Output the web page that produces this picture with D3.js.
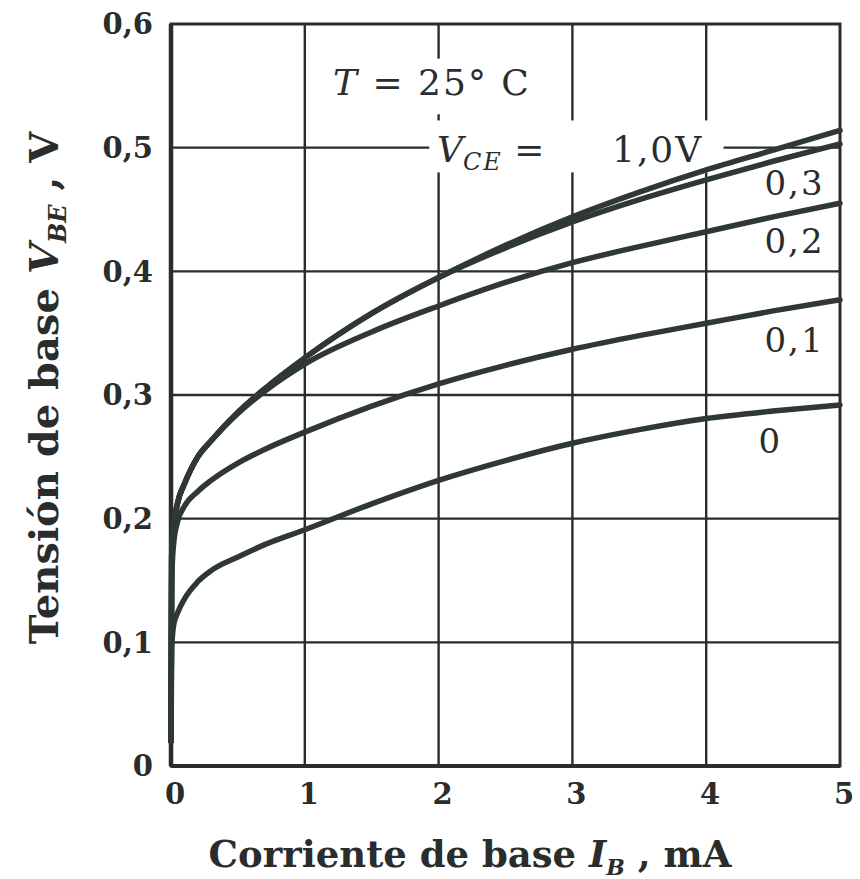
<!DOCTYPE html>
<html><head><meta charset="utf-8">
<script src="https://cdn.jsdelivr.net/npm/d3@7/dist/d3.min.js"></script>
<style>body{margin:0;background:#fff}svg{display:block}</style>
</head><body>
<script>
const xTicks = [0,1,2,3,4,5];
const yTicks = [0,0.1,0.2,0.3,0.4,0.5,0.6];
const yTickLabels = ["0","0,1","0,2","0,3","0,4","0,5","0,6"];
const xTickLabels = ["0","1","2","3","4","5"];
const ib = [0,0.005,0.02,0.05,0.1,0.2,0.3,0.5,0.7,1,1.5,2,2.5,3,3.5,4,4.5,5];
const vce0  = [0.02,0.095,0.114,0.124,0.135,0.149,0.158,0.169,0.179,0.191,0.212,0.231,0.247,0.261,0.272,0.281,0.287,0.292];
const vce01 = [0.02,0.15,0.180,0.198,0.210,0.222,0.231,0.245,0.256,0.270,0.291,0.309,0.324,0.337,0.348,0.358,0.368,0.377];
const vce02 = [0.02,0.17,0.193,0.213,0.228,0.250,0.263,0.285,0.303,0.325,0.351,0.372,0.391,0.407,0.420,0.432,0.444,0.455];
const vce03 = [0.02,0.17,0.193,0.213,0.228,0.250,0.263,0.286,0.305,0.330,0.366,0.395,0.419,0.440,0.458,0.474,0.489,0.503];
const vce10 = [0.02,0.17,0.193,0.213,0.228,0.250,0.263,0.286,0.305,0.330,0.366,0.395,0.421,0.444,0.464,0.482,0.498,0.514];
const seriesNames = ["0","0,1","0,2","0,3","1,0"];
const seriesValues = [vce0, vce01, vce02, vce03, vce10];

const W = 860, H = 879;
const ink = "#2a2d2b", curveInk = "#303833";
const svg = d3.select("body").append("svg").attr("width", W).attr("height", H);
svg.append("rect").attr("width", W).attr("height", H).attr("fill", "#fff");

const x = d3.scaleLinear().domain([0,5]).range([171,840]);
const y = d3.scaleLinear().domain([0,0.6]).range([766,24]);
const font = "'DejaVu Serif', serif";

// grid
const g = svg.append("g");
g.selectAll("line.v").data(xTicks.slice(1,-1)).join("line")
  .attr("x1", d=>x(d)).attr("x2", d=>x(d)).attr("y1", y(0.6)).attr("y2", y(0))
  .attr("stroke", ink).attr("stroke-width", 2.4);
g.selectAll("line.h").data(yTicks.slice(1,-1)).join("line")
  .attr("x1", x(0)).attr("x2", x(5)).attr("y1", d=>y(d)).attr("y2", d=>y(d))
  .attr("stroke", ink).attr("stroke-width", 2.4);

// label backgrounds (breaks in grid)
svg.append("rect").attr("x", x(1.93)).attr("y", y(0.522)).attr("width", x(4.13)-x(1.93)).attr("height", y(0.48)-y(0.522)).attr("fill", "#fff");
svg.append("rect").attr("x", x(1.2)).attr("y", y(0.572)).attr("width", x(2.8)-x(1.2)).attr("height", y(0.527)-y(0.572)).attr("fill", "#fff");

// frame
svg.append("rect").attr("x", x(0)).attr("y", y(0.6)).attr("width", x(5)-x(0)).attr("height", y(0)-y(0.6))
  .attr("fill", "none").attr("stroke", ink).attr("stroke-width", 3);
svg.append("line").attr("x1", x(0)).attr("x2", x(0)).attr("y1", y(0.6)).attr("y2", y(0)).attr("stroke", ink).attr("stroke-width", 4.5);
svg.append("line").attr("x1", x(0)).attr("x2", x(5)).attr("y1", y(0)).attr("y2", y(0)).attr("stroke", ink).attr("stroke-width", 4);

// curves
const line = d3.line().x((d,i)=>x(ib[i])).y(d=>y(d)).curve(d3.curveMonotoneX);
svg.selectAll("path.curve").data(seriesValues).join("path")
  .attr("d", d=>line(d)).attr("fill", "none").attr("stroke", curveInk)
  .attr("stroke-width", 5.5).attr("stroke-linecap", "round");

// tick labels
svg.selectAll("text.yt").data(yTicks).join("text")
  .attr("x", 153).attr("y", d=>y(d)).attr("dy", "0.36em").attr("text-anchor", "end")
  .attr("font-family", font).attr("font-weight", "bold").attr("font-size", 29).attr("fill", ink)
  .text((d,i)=>yTickLabels[i]);
svg.selectAll("text.xt").data(xTicks).join("text")
  .attr("x", d=>x(d)+4).attr("y", 804).attr("text-anchor", "middle")
  .attr("font-family", font).attr("font-weight", "bold").attr("font-size", 29).attr("fill", ink)
  .text((d,i)=>xTickLabels[i]);

// series labels
const labelPos = [[4.48,0.253],[4.66,0.335],[4.66,0.415],[4.66,0.462]];
svg.selectAll("text.sl").data(labelPos).join("text")
  .attr("x", d=>x(d[0])).attr("y", d=>y(d[1])).attr("text-anchor", "middle")
  .attr("font-family", font).attr("font-size", 34).attr("letter-spacing", 2).attr("fill", ink)
  .text((d,i)=>seriesNames[i]);

// V_CE label
const vl = svg.append("text").attr("x", 437).attr("y", 162)
  .attr("font-family", font).attr("font-size", 36).attr("fill", ink);
vl.append("tspan").attr("font-style", "italic").text("V");
vl.append("tspan").attr("font-style", "italic").attr("font-size", 24).attr("dy", 8).attr("letter-spacing", 2).text("CE");
vl.append("tspan").attr("dy", -8).text("  =");
svg.append("text").attr("x", 612).attr("y", 162)
  .attr("font-family", font).attr("font-size", 36).attr("letter-spacing", 2).attr("fill", ink).text("1,0V");

// T label
const tl = svg.append("text").attr("x", 333).attr("y", 95)
  .attr("font-family", font).attr("font-size", 36).attr("letter-spacing", 2).attr("fill", ink);
tl.append("tspan").attr("font-style", "italic").text("T");
tl.append("tspan").text(" = 25° C");

// axis titles
const xt = svg.append("text").attr("x", 470).attr("y", 867).attr("text-anchor", "middle")
  .attr("font-family", font).attr("font-weight", "bold").attr("font-size", 37).attr("fill", ink);
xt.append("tspan").text("Corriente de base ");
xt.append("tspan").attr("font-style", "italic").text("I");
xt.append("tspan").attr("font-style", "italic").attr("font-size", 22).attr("dy", 8).text("B");
xt.append("tspan").attr("dy", -8).text(" , mA");

const yt = svg.append("text").attr("transform", "translate(58,388) rotate(-90)").attr("text-anchor", "middle")
  .attr("font-family", font).attr("font-weight", "bold").attr("font-size", 40).attr("fill", ink);
yt.append("tspan").text("Tensión de base ");
yt.append("tspan").attr("font-style", "italic").text("V");
yt.append("tspan").attr("font-style", "italic").attr("font-size", 24).attr("dy", 8).text("BE");
yt.append("tspan").attr("dy", -8).text(" , V");
</script>
</body></html>
